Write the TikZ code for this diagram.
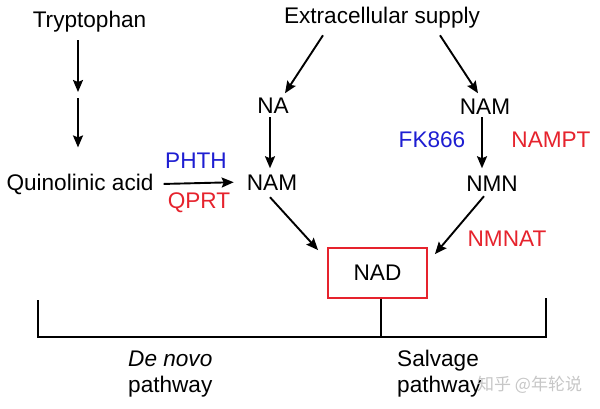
\documentclass[tikz,border=0pt]{standalone}
\usepackage{fontspec}
\setmainfont{Liberation Sans}
\newfontfamily\cjkfont{Noto Sans CJK SC}
\usetikzlibrary{arrows.meta,calc}
\definecolor{myblue}{RGB}{30,30,210}
\definecolor{myred}{RGB}{230,35,45}
\begin{document}
\begin{tikzpicture}[x=1pt,y=-1pt,
  lbl/.style={inner sep=0pt, anchor=base, font=\fontsize{22.6}{26}\selectfont},
  arr/.style={line width=1.9pt, -{Stealth[length=12pt,width=10pt,inset=2pt]}},
  ln/.style={line width=1.9pt}]
\useasboundingbox (0,0) rectangle (600,408);
\fill[white] (0,0) rectangle (600,408);

% nodes
\node[lbl] (tryp) at (89.5,27) {Tryptophan};
\node[lbl] (quin) at (80,190) {Quinolinic acid};
\node[lbl,text=myblue] (phth) at (196,168) {PHTH};
\node[lbl,text=myred] (qprt) at (199,208) {QPRT};
\node[lbl] (na) at (273,113) {NA};
\node[lbl] (naml) at (272,190) {NAM};
\node[lbl] (es) at (382,23) {Extracellular supply};
\node[lbl] (namr) at (485,114) {NAM};
\node[lbl,text=myblue] (fk) at (432,147) {FK866};
\node[lbl,text=myred] (nampt) at (551,147) {NAMPT};
\node[lbl] (nmn) at (492,191) {NMN};
\node[lbl,text=myred] (nmnat) at (507,246) {NMNAT};
\node[draw=myred, line width=1.9pt, minimum width=99pt, minimum height=50pt,
      inner sep=0pt, font=\fontsize{22.6}{26}\selectfont] (nad) at (377.5,273) {NAD};

% arrows
\coordinate (tq) at (78,95);
\draw[arr] ($(tryp.south)+(-11.5,8.4)$) -- ($(tq)+(0,-3)$);
\draw[arr] ($(tq)+(0,3)$) -- ($(quin.north)+(-2,-26)$);
\draw[arr] ($(quin.east)+(10,0)$) -- ($(naml.west)+(-13,0)$);
\draw[arr] ($(es.south)+(-59,7.4)$) -- ($(na.north)+(12,-4)$);
\draw[arr] ($(es.south)+(58,7.4)$) -- ($(namr.north)+(-7,-5)$);
\draw[arr] ($(na.south)+(-3,4)$) -- ($(naml.north)+(-2,-6)$);
\draw[arr] ($(namr.south)+(-3,3)$) -- ($(nmn.north)+(-10,-7)$);
\draw[arr] ($(naml.south)+(-2,7)$) -- ($(nad.north west)+(-9,3)$);
\draw[arr] ($(nmn.south)+(-8,5)$) -- ($(nad.north east)+(7,7)$);

% bracket
\coordinate (bl) at (38,300);
\coordinate (br) at (546,298);
\coordinate (bm) at (381,337);
\draw[ln] (bl) -- (bl |- bm) -- (br |- bm) -- (br);
\draw[ln] (nad.south -| bm) -- (bm);

% pathway labels
\node[lbl, anchor=north west, align=left] (dn) at (128,351) {\textit{De novo}\\pathway};
\node[lbl, anchor=north west, align=left] (sv) at (397,350) {Salvage\\pathway};
\node[inner sep=0pt, anchor=base west, text=black!22, font=\cjkfont\fontsize{17}{20}\selectfont] (wm) at (477,390) {知乎 @年轮说};
\end{tikzpicture}
\end{document}
